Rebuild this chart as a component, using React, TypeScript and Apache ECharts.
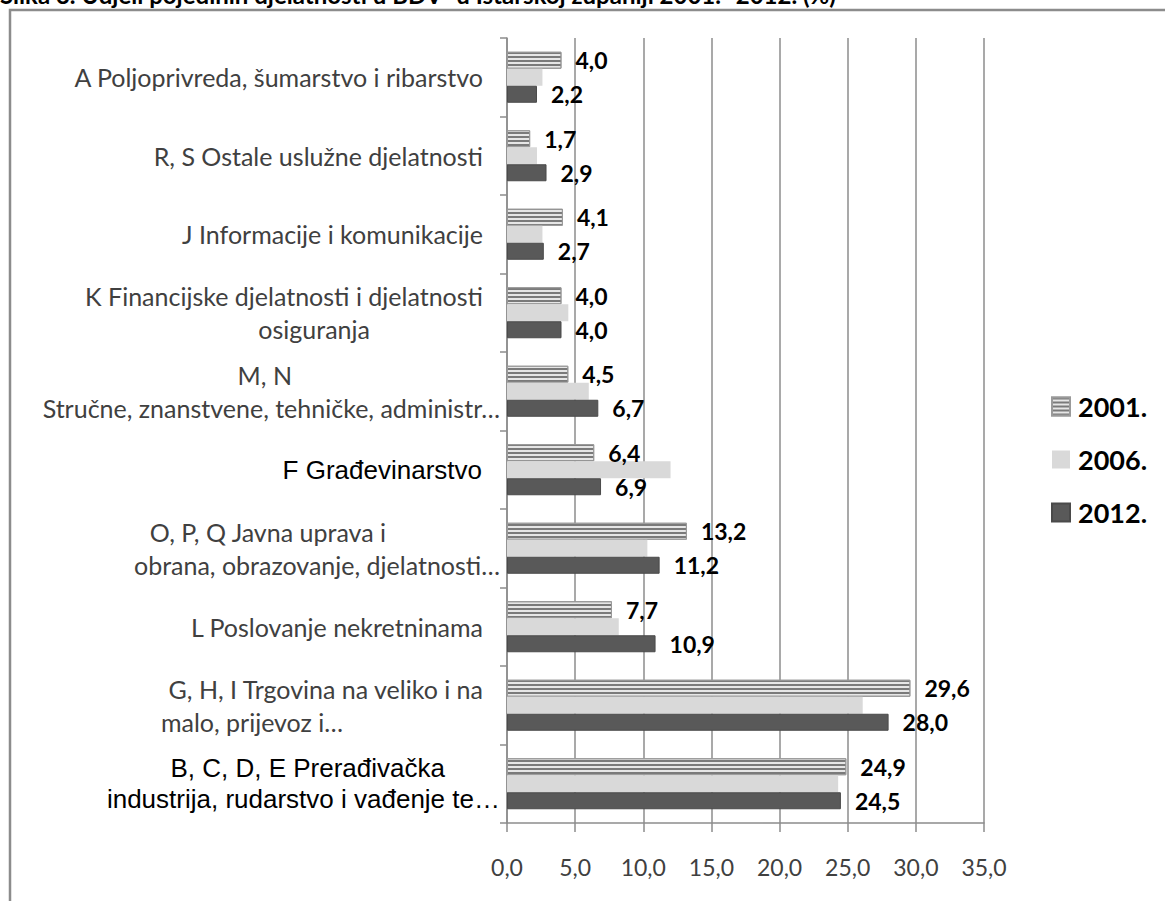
import React, { useEffect, useRef } from "react";
import * as echarts from "echarts";

const titleText =
  "Slika 3. Udjeli pojedinih djelatnosti u BDV- u Istarskoj županiji 2001.- 2012. (%)";

const categories = [
  "A Poljoprivreda, šumarstvo i ribarstvo",
  "R, S Ostale uslužne djelatnosti",
  "J Informacije i komunikacije",
  "K Financijske djelatnosti i djelatnosti\nosiguranja",
  "M, N\nStručne, znanstvene, tehničke, administr…",
  "F Građevinarstvo",
  "O, P, Q Javna uprava i\nobrana, obrazovanje, djelatnosti…",
  "L Poslovanje nekretninama",
  "G, H, I Trgovina na veliko i na\nmalo, prijevoz i…",
  "B, C, D, E Prerađivačka\nindustrija, rudarstvo i vađenje te…",
];

const seriesNames = ["2001.", "2006.", "2012."];
const values2001 = [4.0, 1.7, 4.1, 4.0, 4.5, 6.4, 13.2, 7.7, 29.6, 24.9];
const values2006 = [2.6, 2.2, 2.6, 4.5, 6.0, 12.0, 10.3, 8.2, 26.1, 24.3];
const values2012 = [2.2, 2.9, 2.7, 4.0, 6.7, 6.9, 11.2, 10.9, 28.0, 24.5];

const xMin = 0;
const xMax = 35;
const xInterval = 5;

// label layout (right padding per line), kept apart from data
const labelPads: number[][] = [
  [17],
  [17],
  [17],
  [17, 130],
  [208, 0],
  [18],
  [114, 0],
  [17],
  [17, 157],
  [55, 0],
];
const arialCats = [5, 9];

const fmt = (v: number) => v.toFixed(1).replace(".", ",");

export default function App() {
  const ref = useRef<HTMLDivElement>(null);
  useEffect(() => {
    if (!ref.current) return;
    const chart = echarts.init(ref.current, undefined, { renderer: "svg" });

    const rich: Record<string, any> = {};
    labelPads.forEach((pads, ci) => {
      pads.forEach((p) => {
        const arial = arialCats.includes(ci);
        const key = (arial ? "a" : "c") + p;
        rich[key] = arial
          ? {
              fontFamily: "Liberation Sans",
              fontSize: 26,
              color: "#000",
              lineHeight: 31,
              padding: [0, p, 0, 0],
              align: "right",
            }
          : {
              fontFamily: "Lato",
              fontSize: 25,
              color: "#404040",
              lineHeight: 33,
              padding: [0, p, 0, 0],
              align: "right",
            };
      });
    });

    const labelStyle = {
      show: true,
      position: "right",
      distance: 14,
      fontFamily: "Lato",
      fontWeight: "bold",
      fontSize: 23,
      color: "#000",
      formatter: (p: any) => fmt(p.value),
    };

    chart.setOption({
      animation: false,
      backgroundColor: "#fff",
      graphic: [
        {
          type: "rect",
          shape: { x: 10, y: 10, width: 1300, height: 1000 },
          style: { fill: "none", stroke: "#8c8c8c", lineWidth: 2.5 },
          silent: true,
        },
        {
          type: "text",
          x: 0,
          y: -6,
          style: {
            text: titleText,
            fontFamily: "Lato",
            fontWeight: "bold",
            fontSize: 24,
            fill: "#000",
            verticalAlign: "middle",
          },
        },
      ],
      legend: {
        orient: "vertical",
        left: 1051,
        top: 393,
        padding: 0,
        itemWidth: 18,
        itemHeight: 18,
        itemGap: 26,
        icon: "rect",
        data: seriesNames,
        textStyle: {
          fontFamily: "Lato",
          fontWeight: "bold",
          fontSize: 27,
          color: "#000",
          padding: [0, 0, 0, 3],
        },
      },
      grid: { left: 507, top: 38, width: 477, height: 785, containLabel: false },
      xAxis: {
        type: "value",
        min: xMin,
        max: xMax,
        interval: xInterval,
        axisLine: { show: true, lineStyle: { color: "#8c8c8c", width: 1.5 } },
        axisTick: { show: true, length: 9, lineStyle: { color: "#8c8c8c", width: 1.5 } },
        splitLine: { show: true, lineStyle: { color: "#8c8c8c", width: 1.5 } },
        axisLabel: {
          margin: 32,
          fontFamily: "Lato",
          fontSize: 23,
          color: "#404040",
          formatter: (v: number) => fmt(v),
        },
      },
      yAxis: {
        type: "category",
        inverse: true,
        data: categories,
        axisLine: { show: true, lineStyle: { color: "#8c8c8c", width: 1.5 } },
        axisTick: { show: true, length: 7, lineStyle: { color: "#8c8c8c", width: 1.5 } },
        axisLabel: {
          margin: 7,
          interval: 0,
          rich,
          formatter: (value: string, index: number) => {
            const lines = value.split("\n");
            const pads = labelPads[index] || [];
            const pre = arialCats.includes(index) ? "a" : "c";
            return lines
              .map((l, i) => `{${pre}${pads[i] ?? 0}|${l}}`)
              .join("\n");
          },
        },
      },
      series: [
        {
          name: seriesNames[0],
          type: "bar",
          data: values2001,
          barGap: "0%",
          barCategoryGap: "35%",
          itemStyle: {
            color: "#e6e6e6",
            borderColor: "#9a9a9a",
            borderWidth: 1,
            decal: {
              symbol: "rect",
              symbolSize: 1,
              dashArrayX: [1, 0],
              dashArrayY: [2, 2],
              rotation: 0,
              color: "#7a7a7a",
            },
          },
          label: labelStyle,
        },
        {
          name: seriesNames[1],
          type: "bar",
          data: values2006,
          barGap: "0%",
          barCategoryGap: "35%",
          itemStyle: { color: "#d9d9d9" },
        },
        {
          name: seriesNames[2],
          type: "bar",
          data: values2012,
          barGap: "0%",
          barCategoryGap: "35%",
          itemStyle: { color: "#595959", borderColor: "#4a4a4a", borderWidth: 1 },
          label: labelStyle,
        },
      ],
    });
    return () => chart.dispose();
  }, []);
  return (
    <div
      ref={ref}
      style={{ position: "fixed", left: 0, top: 0, width: 1165, height: 901 }}
    />
  );
}
